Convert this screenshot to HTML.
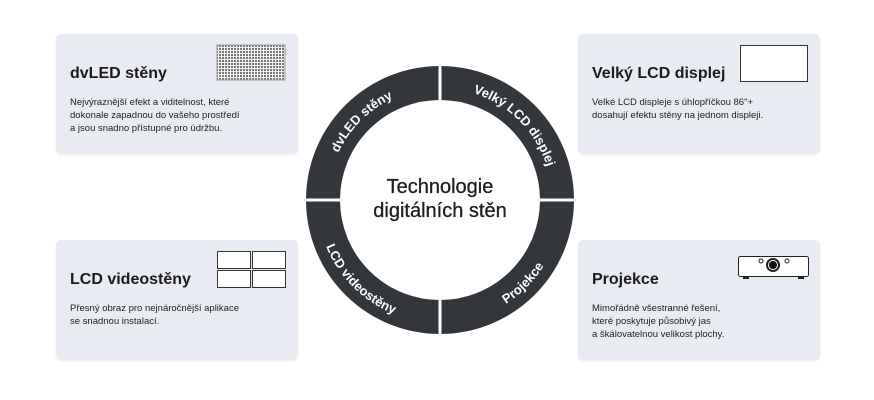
<!DOCTYPE html>
<html><head><meta charset="utf-8"><style>
body{margin:0;width:874px;height:400px;background:#fff;font-family:"Liberation Sans",sans-serif;position:relative;overflow:hidden}
.card{position:absolute;width:242px;height:120px;background:#e9ebf3;border-radius:5px;box-shadow:0 1px 2px rgba(0,0,0,.08)}
.card h3{position:absolute;left:14px;top:31px;margin:0;font-size:16px;font-weight:bold;color:#1b1b1b}
.card p{position:absolute;left:14px;top:62px;margin:0;font-size:9.5px;line-height:13px;color:#222}
</style></head><body>
<div class="card" style="left:56px;top:34px"><h3>dvLED stěny</h3><p>Nejvýraznější efekt a viditelnost, které<br>dokonale zapadnou do vašeho prostředí<br>a jsou snadno přístupné pro údržbu.</p></div>
<div class="card" style="left:578px;top:34px"><h3>Velký LCD displej</h3><p>Velké LCD displeje s úhlopříčkou 86"+<br>dosahují efektu stěny na jednom displeji.</p></div>
<div class="card" style="left:56px;top:240px"><h3>LCD videostěny</h3><p>Přesný obraz pro nejnáročnější aplikace<br>se snadnou instalací.</p></div>
<div class="card" style="left:578px;top:240px"><h3>Projekce</h3><p>Mimořádně všestranné řešení,<br>které poskytuje působivý jas<br>a škálovatelnou velikost plochy.</p></div>
<svg width="874" height="400" style="position:absolute;left:0;top:0">
<defs>
<pattern id="g" width="3" height="3" patternUnits="userSpaceOnUse"><rect width="3" height="3" fill="#f4f4f4"/><rect width="2" height="2" fill="#777"/></pattern>
<path id="a1" d="M328,200 A112,112 0 0 1 440,88"/>
<path id="a2" d="M440,88 A112,112 0 0 1 552,200"/>
<path id="a3" d="M317,200 A123,123 0 0 0 440,323"/>
<path id="a4" d="M440,323 A123,123 0 0 0 563,200"/>
</defs>
<rect x="217" y="45" width="68" height="35" fill="url(#g)" stroke="#999"/>
<rect x="740.5" y="45.5" width="67" height="36" fill="#fff" stroke="#333"/>
<g fill="#fff" stroke="#333"><rect x="217.5" y="251.5" width="33" height="17"/><rect x="252.5" y="251.5" width="33" height="17"/><rect x="217.5" y="270.5" width="33" height="17"/><rect x="252.5" y="270.5" width="33" height="17"/></g>
<g stroke="#222" fill="#fff"><rect x="738.5" y="256.5" width="70" height="20" rx="2"/><circle cx="773" cy="265" r="6" stroke-width="2"/><circle cx="761" cy="261" r="2"/><circle cx="787" cy="261" r="2"/></g>
<circle cx="773" cy="265" r="4" fill="#111"/>
<rect x="743" y="277" width="6" height="2" fill="#222"/><rect x="798" y="277" width="6" height="2" fill="#222"/>
<circle cx="440" cy="200" r="117" fill="none" stroke="#33363b" stroke-width="34"/>
<rect x="438.5" y="60" width="3" height="280" fill="#fff"/>
<rect x="300" y="198.5" width="280" height="3" fill="#fff"/>
<g font-size="13" font-weight="bold" fill="#fff" text-anchor="middle">
<text><textPath href="#a1" startOffset="50%">dvLED stěny</textPath></text>
<text><textPath href="#a2" startOffset="50%">Velký LCD displej</textPath></text>
<text><textPath href="#a3" startOffset="50%">LCD videostěny</textPath></text>
<text><textPath href="#a4" startOffset="50%">Projekce</textPath></text>
</g>
<g font-size="20" fill="#1e1e1e" text-anchor="middle" stroke="#1e1e1e" stroke-width="0.3"><text x="440" y="193">Technologie</text><text x="440" y="217">digitálních stěn</text></g>
</svg>
</body></html>
